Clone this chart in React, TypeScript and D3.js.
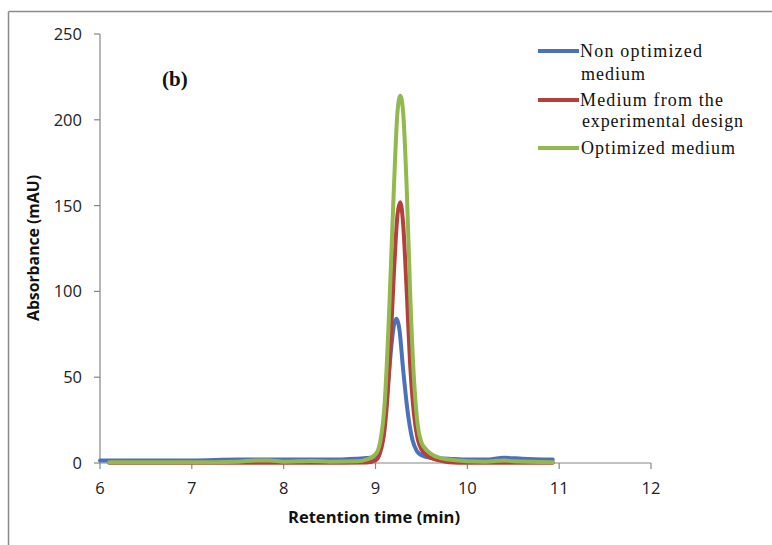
import React from "react";
import * as d3 from "d3";

const xTicks = [6, 7, 8, 9, 10, 11, 12];
const yTicks = [0, 50, 100, 150, 200, 250];

const blueT = [6.0, 6.5, 7.0, 7.5, 8.0, 8.5, 8.8, 8.95, 9.05, 9.1, 9.15, 9.2, 9.23, 9.26, 9.3, 9.35, 9.4, 9.45, 9.5, 9.6, 9.8, 10.0, 10.2, 10.4, 10.6, 10.93];
const blueV = [1.5, 1.5, 1.5, 2, 2, 2, 2.5, 3, 8, 25, 55, 80, 84, 78, 55, 30, 14, 7, 4.5, 3, 2.5, 2, 2, 3, 2.5, 2];

const redT = [6.1, 6.5, 7.0, 7.5, 8.0, 8.5, 8.9, 9.0, 9.05, 9.1, 9.15, 9.2, 9.24, 9.27, 9.3, 9.34, 9.38, 9.42, 9.46, 9.5, 9.55, 9.6, 9.7, 9.8, 10.0, 10.5, 10.93];
const redV = [0.2, 0.2, 0.2, 0.2, 0.2, 0.2, 0.3, 1.5, 6, 20, 55, 110, 145, 152, 140, 100, 55, 28, 14, 8, 5, 3, 1.5, 0.5, 0.2, 0.2, 0.2];

const greenT = [6.1, 6.5, 7.0, 7.5, 7.7, 7.85, 8.0, 8.3, 8.5, 8.8, 8.9, 9.0, 9.05, 9.1, 9.15, 9.2, 9.24, 9.27, 9.3, 9.34, 9.38, 9.42, 9.46, 9.5, 9.55, 9.6, 9.7, 9.8, 10.0, 10.2, 10.4, 10.5, 10.93];
const greenV = [0.5, 0.5, 0.5, 0.8, 1.5, 1.5, 0.8, 1.2, 0.8, 1, 2, 5, 12, 35, 90, 160, 205, 214, 205, 160, 95, 48, 22, 12, 8, 5.5, 3, 2, 1, 0.8, 1.5, 1, 0.5];

const seriesNames = ["Non optimized", "Medium from the", "Optimized medium"];
const colors = ["#4A72BC", "#B3403D", "#92B94D"];

export default function App() {
  const x = d3.scaleLinear().domain([6, 12]).range([100, 651]);
  const y = d3.scaleLinear().domain([0, 250]).range([463, 34]);
  const line = d3
    .line<[number, number]>()
    .x((d) => x(d[0]))
    .y((d) => y(d[1]))
    .curve(d3.curveMonotoneX);
  const series = [
    blueT.map((t, i) => [t, blueV[i]] as [number, number]),
    redT.map((t, i) => [t, redV[i]] as [number, number]),
    greenT.map((t, i) => [t, greenV[i]] as [number, number]),
  ];
  const axisColor = "#868686";
  const sans = "Open Sans, Liberation Sans, sans-serif";
  const serif = "Liberation Serif, DejaVu Serif, serif";
  return (
    <svg width={772} height={545} style={{ position: "absolute", left: 0, top: 0 }}>
      <rect x={0} y={0} width={772} height={545} fill="#fff" />
      <line x1={8.5} y1={11.5} x2={772} y2={11.5} stroke="#8a8a8a" strokeWidth={1.5} />
      <line x1={8.5} y1={11.5} x2={8.5} y2={545} stroke="#8a8a8a" strokeWidth={1.5} />
      {/* axes */}
      <line x1={x(6)} y1={y(0)} x2={x(12)} y2={y(0)} stroke={axisColor} strokeWidth={1.2} />
      <line x1={x(6)} y1={y(0)} x2={x(6)} y2={y(250)} stroke={axisColor} strokeWidth={1.2} />
      {xTicks.map((t) => (
        <g key={"xt" + t}>
          <line x1={x(t)} x2={x(t)} y1={y(0)} y2={y(0) + 6} stroke={axisColor} strokeWidth={1.2} />
          <text x={x(t)} y={494} textAnchor="middle" fontFamily={sans} fontSize={16.5} fill="#222">
            {t}
          </text>
        </g>
      ))}
      {yTicks.map((t) => (
        <g key={"yt" + t}>
          <line x1={x(6) - 6} x2={x(6)} y1={y(t)} y2={y(t)} stroke={axisColor} strokeWidth={1.2} />
          <text x={82} y={y(t) + 6} textAnchor="end" fontFamily={sans} fontSize={16.5} fill="#222">
            {t}
          </text>
        </g>
      ))}
      {/* series */}
      {series.map((s, i) => (
        <path key={"s" + i} d={line(s) || ""} fill="none" stroke={colors[i]} strokeWidth={4} strokeLinejoin="round" strokeLinecap="round" />
      ))}
      {/* labels */}
      <text x={374} y={523} textAnchor="middle" fontFamily={sans} fontWeight="bold" fontSize={16} fill="#111" textLength={172} lengthAdjust="spacingAndGlyphs">
        Retention time (min)
      </text>
      <text transform="translate(39,248) rotate(-90)" textAnchor="middle" fontFamily={sans} fontWeight="bold" fontSize={16} fill="#111" textLength={146} lengthAdjust="spacingAndGlyphs">
        Absorbance (mAU)
      </text>
      <text x={162} y={86} fontFamily={serif} fontWeight="bold" fontSize={21} fill="#111">
        (b)
      </text>
      {/* legend */}
      {[51, 100, 148].map((ly, i) => (
        <line key={"ll" + i} x1={538} x2={579} y1={ly} y2={ly} stroke={colors[i]} strokeWidth={4} />
      ))}
      <text x={580} y={57} fontFamily={serif} fontSize={18} fill="#111" textLength={122} lengthAdjust="spacing">
        {seriesNames[0]}
      </text>
      <text x={581} y={80} fontFamily={serif} fontSize={18} fill="#111" textLength={64} lengthAdjust="spacing">
        medium
      </text>
      <text x={580} y={106} fontFamily={serif} fontSize={18} fill="#111" textLength={143} lengthAdjust="spacing">
        {seriesNames[1]}
      </text>
      <text x={582} y={127} fontFamily={serif} fontSize={18} fill="#111" textLength={161} lengthAdjust="spacing">
        experimental design
      </text>
      <text x={581} y={154} fontFamily={serif} fontSize={18} fill="#111" textLength={154} lengthAdjust="spacing">
        {seriesNames[2]}
      </text>
    </svg>
  );
}
